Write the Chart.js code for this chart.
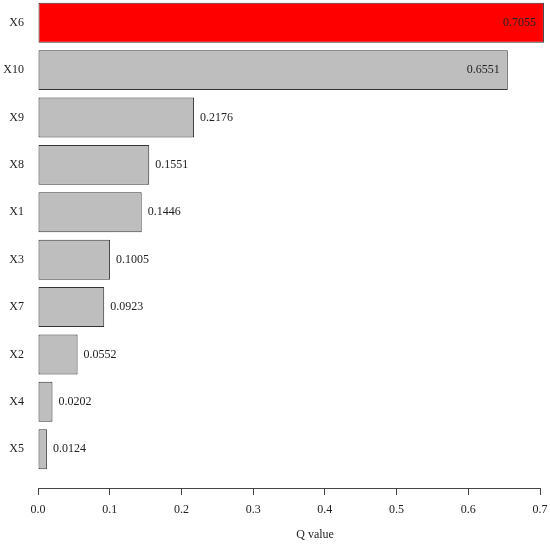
<!DOCTYPE html>
<html><head><meta charset="utf-8">
<script src="https://cdn.jsdelivr.net/npm/chart.js@4/dist/chart.umd.min.js"></script>
<style>html,body{margin:0;padding:0;background:#fff}#wrap{width:550px;height:548px}</style>
</head><body><div id="wrap"><canvas id="c"></canvas></div>
<script>
const categories = ["X6","X10","X9","X8","X1","X3","X7","X2","X4","X5"];
const qValues = [0.7055,0.6551,0.2176,0.1551,0.1446,0.1005,0.0923,0.0552,0.0202,0.0124];
const xTicks = [0,0.1,0.2,0.3,0.4,0.5,0.6,0.7];
const highlight = "X6";
const xTitle = "Q value";

const FONT = "'Liberation Serif','Times New Roman',serif";
const FS = 12;
const TXT = "#222";

const valueLabels = {
  id: 'valueLabels',
  afterDatasetsDraw(chart) {
    const ctx = chart.ctx;
    const meta = chart.getDatasetMeta(0);
    ctx.save();
    ctx.font = FS + "px " + FONT;
    ctx.fillStyle = TXT;
    ctx.textBaseline = "middle";
    meta.data.forEach((bar, i) => {
      const v = qValues[i];
      const txt = v.toFixed(4);
      if (v > 0.5) { ctx.textAlign = "right"; ctx.fillText(txt, bar.x - 8, bar.y); }
      else { ctx.textAlign = "left"; ctx.fillText(txt, bar.x + 6, bar.y); }
    });
    // axis title, centred on the (wider) plot region as in the original figure
    const xs = chart.scales.x;
    const area = chart.chartArea;
    ctx.textAlign = "center";
    ctx.fillText(xTitle, area.left + (area.right - area.left) * 0.552, xs.bottom + 17);
    ctx.restore();
  }
};

new Chart(document.getElementById('c'), {
  type: 'bar',
  data: {
    datasets: [{
      data: categories.map((c, i) => ({ x: qValues[i], y: i })),
      backgroundColor: ctx => categories[ctx.dataIndex] === highlight ? '#FF0000' : '#BEBEBE',
      borderColor: '#333',
      borderWidth: 1,
      borderSkipped: false,
      barPercentage: 0.844,
      categoryPercentage: 1,
      clip: false
    }]
  },
  plugins: [valueLabels],
  options: {
    indexAxis: 'y',
    responsive: true,
    maintainAspectRatio: false,
    animation: false,
    layout: { padding: { top: 0, right: 10, bottom: 30, left: 0 } },
    plugins: { legend: { display: false }, tooltip: { enabled: false } },
    scales: {
      x: {
        type: 'linear',
        min: 0, max: 0.7,
        afterBuildTicks: s => { s.ticks = xTicks.map(v => ({ value: v })); },
        afterFit: s => { s.height = 30; s.paddingLeft = 0; s.paddingRight = 0; },
        ticks: { callback: v => Number(v).toFixed(1), font: { family: FONT, size: FS }, color: TXT, padding: 8, maxRotation: 0 },
        grid: { drawOnChartArea: false, tickLength: 7, color: '#444' },
        border: { display: true, color: '#444' },
        title: { display: false }
      },
      y: {
        type: 'linear',
        reverse: true,
        offset: false,
        min: -0.48, max: 9.82,
        afterBuildTicks: s => { s.ticks = categories.map((c, i) => ({ value: i })); },
        afterFit: s => { s.width = 38; s.paddingTop = 0; s.paddingBottom = 0; },
        ticks: { callback: v => categories[v], font: { family: FONT, size: FS }, color: TXT, padding: 14 },
        grid: { display: false, drawTicks: false, offset: false },
        border: { display: false }
      }
    }
  }
});
</script>
</body></html>
